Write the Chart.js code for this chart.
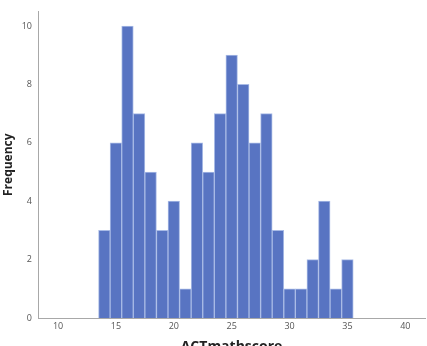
<!DOCTYPE html>
<html>
<head>
<meta charset="utf-8">
<script src="https://cdn.jsdelivr.net/npm/chart.js@4"></script>
<style>
  html, body { margin: 0; padding: 0; background: #fff; overflow: hidden; }
  #wrap { width: 427px; height: 346px; overflow: hidden; }
</style>
</head>
<body>
<div id="wrap"><canvas id="chart1" width="427" height="359"></canvas></div>
<script>
"use strict";

// 得点(ビン中心)と度数
const scores = [14, 15, 16, 17, 18, 19, 20, 21, 22, 23, 24, 25, 26, 27, 28, 29, 30, 31, 32, 33, 34, 35];
const counts = [3, 6, 10, 7, 5, 3, 4, 1, 6, 5, 7, 9, 8, 6, 7, 3, 1, 1, 2, 4, 1, 2];
const xTicks = [10, 15, 20, 25, 30, 35, 40];
const yTicks = [0, 2, 4, 6, 8, 10];

const tickFont = { family: "Open Sans", size: 9 };

const chartData = {
    datasets: [
        {
            label: "ACTmathscore",
            data: scores.map((s, i) => ({ x: s, y: counts[i] })),
            backgroundColor: "#5874c2",
            borderColor: "#a9bbe6",
            borderWidth: 1,
            barPercentage: 1,
            categoryPercentage: 1,
        },
    ],
};

const chartOptions = {
    responsive: false,
    animation: false,
    layout: { padding: { top: 4, right: 2, left: 0, bottom: 0 } },
    plugins: {
        legend: { display: false },
        tooltip: { enabled: false },
    },
    scales: {
        x: {
            type: "linear",
            offset: false,
            min: 8.27,
            max: 41.7,
            grid: { display: false, drawTicks: false },
            border: { display: true, color: "#a8a8a8", width: 1 },
            afterBuildTicks: (scale) => {
                scale.ticks = xTicks.map((v) => ({ value: v }));
            },
            afterFit: (scale) => {
                scale.height = 41;
            },
            ticks: { font: tickFont, color: "#555", padding: 3, maxRotation: 0 },
            title: {
                display: true,
                text: "ACTmathscore",
                font: { family: "Open Sans", size: 14, weight: "bold" },
                color: "#222",
                padding: { top: 0, bottom: 4 },
            },
        },
        y: {
            min: 0,
            max: 10.5,
            grid: { display: false, drawTicks: false },
            border: { display: true, color: "#a8a8a8", width: 1 },
            afterBuildTicks: (scale) => {
                scale.ticks = yTicks.map((v) => ({ value: v }));
            },
            afterFit: (scale) => {
                scale.width = 38;
            },
            ticks: { font: tickFont, color: "#555", padding: 6 },
            title: {
                display: true,
                text: "Frequency",
                font: { family: "Open Sans", size: 12, weight: "bold" },
                color: "#222",
                padding: { top: 1, bottom: 0 },
            },
        },
    },
};

const drawChart = (data, options, canvasId) => {
    const context = document.getElementById(canvasId).getContext("2d");
    return new Chart(context, { type: "bar", data: data, options: options });
};

const myChart = drawChart(chartData, chartOptions, "chart1");
</script>
</body>
</html>
